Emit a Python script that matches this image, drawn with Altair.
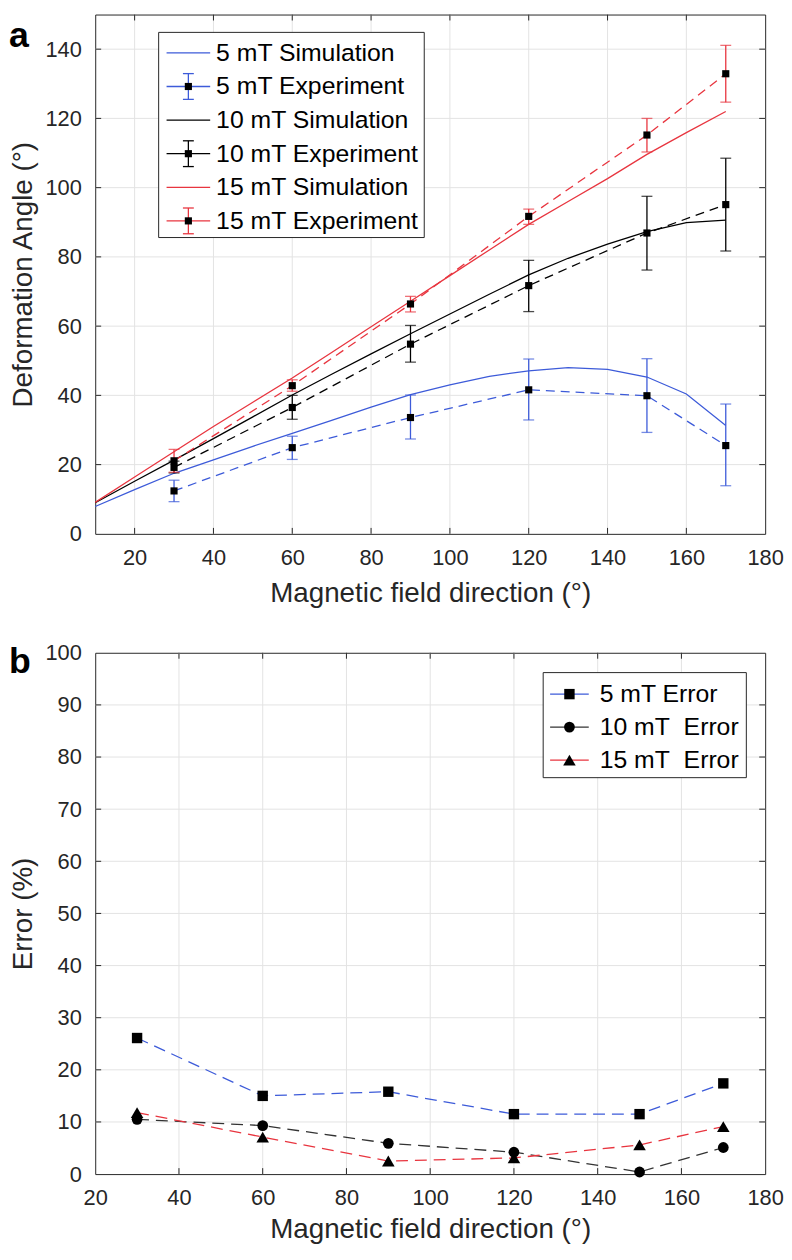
import altair as alt
import pandas as pd

# ---------------- data: panel a ----------------
sim_angles = [10, 20, 30, 40, 50, 60, 70, 80, 90, 100, 110, 120, 130, 140, 150, 160, 170]
sim_5mT = [7.9, 12.8, 17.5, 21.4, 25.3, 29.0, 32.8, 36.6, 40.2, 43.0, 45.5, 47.1, 48.0, 47.5, 45.3, 40.4, 31.3]
sim_10mT = [9.0, 15.2, 21.3, 27.5, 33.8, 40.1, 46.1, 52.0, 57.8, 63.5, 69.2, 74.8, 79.6, 83.7, 87.3, 89.9, 90.6]
sim_15mT = [9.1, 16.4, 23.7, 31.0, 38.0, 45.0, 52.4, 59.8, 67.2, 74.6, 82.0, 89.4, 96.0, 102.6, 109.6, 115.9, 122.0]

exp_angles = [30, 60, 90, 120, 150, 170]
exp_5mT = [12.4, 24.9, 33.6, 41.6, 39.9, 25.5]
exp_5mT_low = [9.3, 21.5, 27.4, 32.9, 29.3, 13.9]
exp_5mT_high = [15.5, 28.2, 40.1, 50.5, 50.6, 37.5]
exp_10mT = [19.2, 36.5, 54.8, 71.7, 86.9, 95.1]
exp_10mT_low = [17.6, 33.1, 49.6, 64.2, 76.2, 81.7]
exp_10mT_high = [21.0, 40.0, 60.2, 79.0, 97.5, 108.5]
exp_15mT = [21.1, 42.8, 66.4, 91.7, 115.2, 132.9]
exp_15mT_low = [17.8, 41.2, 64.1, 89.4, 110.3, 124.7]
exp_15mT_high = [24.4, 44.5, 68.6, 93.8, 120.0, 141.1]

series_a = ["5 mT Simulation", "5 mT Experiment", "10 mT Simulation",
            "10 mT Experiment", "15 mT Simulation", "15 mT Experiment"]
kind_a = ["sim", "exp", "sim", "exp", "sim", "exp"]

xticks_a = [20, 40, 60, 80, 100, 120, 140, 160, 180]
yticks_a = [0, 20, 40, 60, 80, 100, 120, 140]

# ---------------- data: panel b ----------------
err_angles = [30, 60, 90, 120, 150, 170]
err_5mT = [26.1, 15.0, 15.8, 11.5, 11.5, 17.4]
err_10mT = [10.5, 9.3, 5.9, 4.2, 0.4, 5.1]
err_15mT = [11.8, 7.1, 2.5, 3.1, 5.6, 9.1]

series_b = ["5 mT Error", "10 mT  Error", "15 mT  Error"]

xticks_b = [20, 40, 60, 80, 100, 120, 140, 160, 180]
yticks_b = [0, 10, 20, 30, 40, 50, 60, 70, 80, 90, 100]

# ---------------- styling ----------------
FONT = "Liberation Sans"
BLUE = "#3d5bd9"
RED = "#e8353f"
BLACK = "#000000"
FRAME = "#262626"
GRID = "#e3e3e3"
W = 676
HA = 524
HB = 526

colors_a = [BLUE, BLUE, BLACK, BLACK, RED, RED]
colors_b = [BLUE, "#333333", RED]
marker_shapes_b = ["square", "circle", "triangle-up"]
marker_sizes_b = [110, 118, 160]

# ---------------- tables ----------------
sim_rows = []
for name, vals in [("5 mT Simulation", sim_5mT), ("10 mT Simulation", sim_10mT),
                   ("15 mT Simulation", sim_15mT)]:
    for a, v in zip(sim_angles, vals):
        sim_rows.append({"x": a, "y": v, "series": name})
df_sim = pd.DataFrame(sim_rows)

exp_rows = []
for name, vals, lo, hi in [("5 mT Experiment", exp_5mT, exp_5mT_low, exp_5mT_high),
                           ("10 mT Experiment", exp_10mT, exp_10mT_low, exp_10mT_high),
                           ("15 mT Experiment", exp_15mT, exp_15mT_low, exp_15mT_high)]:
    for a, v, l, h in zip(exp_angles, vals, lo, hi):
        exp_rows.append({"x": a, "y": v, "lo": l, "hi": h, "series": name})
df_exp = pd.DataFrame(exp_rows)

err_rows = []
for name, vals in zip(series_b, [err_5mT, err_10mT, err_15mT]):
    for a, v in zip(err_angles, vals):
        err_rows.append({"x": a, "y": v, "eseries": name})
df_err = pd.DataFrame(err_rows)

df_leg_a = pd.DataFrame({"series": series_a, "kind": kind_a, "idx": range(len(series_a))})
df_leg_b = pd.DataFrame({"eseries": series_b, "idx": range(len(series_b))})
df_one = pd.DataFrame({"k": [0]})

# ---------------- helpers ----------------
def axis(values, title, lp, tp):
    return alt.Axis(values=values, title=title, grid=False, ticks=False, tickSize=0,
                    domain=False, labelFont=FONT, labelFontSize=22, labelColor=FRAME,
                    labelPadding=lp, labelFlush=False, labelOverlap=False,
                    titleFont=FONT, titleFontSize=28, titleFontWeight="normal",
                    titleColor=FRAME, titlePadding=tp)


def frame_layers(xenc, yenc, xvals, yvals, xdom, ydom, H):
    gx = pd.DataFrame({"x": [v for v in xvals if xdom[0] < v < xdom[1]]})
    gy = pd.DataFrame({"y": [v for v in yvals if ydom[0] < v < ydom[1]]})
    grid_x = alt.Chart(gx).mark_rule(color=GRID, strokeWidth=1).encode(x=xenc)
    grid_y = alt.Chart(gy).mark_rule(color=GRID, strokeWidth=1).encode(y=yenc)
    tb = alt.Chart(gx).mark_rule(color=FRAME, strokeWidth=1).encode(
        x=xenc, y=alt.value(H), y2=alt.value(H - 6))
    tt = alt.Chart(gx).mark_rule(color=FRAME, strokeWidth=1).encode(
        x=xenc, y=alt.value(0), y2=alt.value(6))
    tl = alt.Chart(gy).mark_rule(color=FRAME, strokeWidth=1).encode(
        y=yenc, x=alt.value(0), x2=alt.value(6))
    tr = alt.Chart(gy).mark_rule(color=FRAME, strokeWidth=1).encode(
        y=yenc, x=alt.value(W), x2=alt.value(W - 6))
    return [grid_x, grid_y], [tb, tt, tl, tr]


def panel_label(letter, ybase):
    return alt.Chart(pd.DataFrame({"t": [letter]})).mark_text(
        font=FONT, fontSize=36, fontWeight="bold", align="left",
        baseline="alphabetic", color="black").encode(
        text="t:N", x=alt.value(-87), y=alt.value(ybase))


def legend_box(x0, x1, y0, y1):
    return alt.Chart(df_one).mark_rect(fill="white", stroke=FRAME, strokeWidth=1).encode(
        x=alt.value(x0), x2=alt.value(x1), y=alt.value(y0), y2=alt.value(y1))

# ---------------- panel a ----------------
xdom_a = [10, 180]
ydom_a = [0, 150]
ax_xa = axis(xticks_a, "Magnetic field direction (°)", 14, 11)
ax_ya = axis(yticks_a, "Deformation Angle (°)", 14, 8)
sx_a = alt.Scale(domain=xdom_a, nice=False, zero=False)
sy_a = alt.Scale(domain=ydom_a, nice=False, zero=False)
xenc_a = alt.X("x:Q", scale=sx_a, axis=ax_xa)
yenc_a = alt.Y("y:Q", scale=sy_a, axis=ax_ya)
color_a = alt.Color("series:N", scale=alt.Scale(domain=series_a, range=colors_a), legend=None)

grids_a, ticks_a = frame_layers(xenc_a, yenc_a, xticks_a, yticks_a, xdom_a, ydom_a, HA)

sim_lines = alt.Chart(df_sim).mark_line(strokeWidth=1.3).encode(
    x=xenc_a, y=yenc_a, color=color_a, detail="series:N")
exp_lines = alt.Chart(df_exp).mark_line(strokeWidth=1.3, strokeDash=[9, 6]).encode(
    x=xenc_a, y=yenc_a, color=color_a, detail="series:N")
err_rules = alt.Chart(df_exp).mark_rule(strokeWidth=1.3).encode(
    x=xenc_a, y=alt.Y("lo:Q", scale=sy_a, axis=ax_ya), y2="hi:Q", color=color_a)
cap_lo = alt.Chart(df_exp).mark_tick(orient="horizontal", size=11, thickness=1.3).encode(
    x=xenc_a, y=alt.Y("lo:Q", scale=sy_a, axis=ax_ya), color=color_a)
cap_hi = alt.Chart(df_exp).mark_tick(orient="horizontal", size=11, thickness=1.3).encode(
    x=xenc_a, y=alt.Y("hi:Q", scale=sy_a, axis=ax_ya), color=color_a)
exp_marks = alt.Chart(df_exp).mark_square(size=52, filled=True, color=BLACK, opacity=1).encode(
    x=xenc_a, y=yenc_a)

# legend a (MATLAB-style box, rows laid out from the series order)
LA = dict(x0=64, x1=332, y0=18, y1=225, row0=38.7, step=33.9, s0=72, s1=116, sc=94, tx=122)
leg_a_base = alt.Chart(df_leg_a).transform_calculate(
    ly=f"{LA['row0']} + {LA['step']} * datum.idx",
    lt=f"{LA['row0']} + {LA['step']} * datum.idx - 13",
    lb=f"{LA['row0']} + {LA['step']} * datum.idx + 13")
ly_a = alt.Y("ly:Q", scale=None)
leg_exp = leg_a_base.transform_filter(alt.datum.kind == "exp")
leg_a_layers = [
    legend_box(LA["x0"], LA["x1"], LA["y0"], LA["y1"]),
    leg_a_base.mark_rule(strokeWidth=1.3).encode(
        x=alt.value(LA["s0"]), x2=alt.value(LA["s1"]), y=ly_a, color=color_a),
    leg_exp.mark_rule(strokeWidth=1.3).encode(
        x=alt.value(LA["sc"]), y=alt.Y("lt:Q", scale=None), y2="lb:Q", color=color_a),
    leg_exp.mark_rule(strokeWidth=1.3).encode(
        x=alt.value(LA["sc"] - 5.5), x2=alt.value(LA["sc"] + 5.5), y=alt.Y("lt:Q", scale=None),
        color=color_a),
    leg_exp.mark_rule(strokeWidth=1.3).encode(
        x=alt.value(LA["sc"] - 5.5), x2=alt.value(LA["sc"] + 5.5), y=alt.Y("lb:Q", scale=None),
        color=color_a),
    leg_exp.mark_square(size=52, filled=True, color=BLACK, opacity=1).encode(
        x=alt.value(LA["sc"]), y=ly_a),
    leg_a_base.mark_text(font=FONT, fontSize=25, align="left", baseline="middle",
                         color="black").encode(x=alt.value(LA["tx"]), y=ly_a, text="series:N"),
]

panel_a = alt.layer(*grids_a, sim_lines, exp_lines, err_rules, cap_lo, cap_hi, exp_marks,
                    *ticks_a, *leg_a_layers, panel_label("a", 33)).properties(width=W, height=HA)

# ---------------- panel b ----------------
xdom_b = [20, 180]
ydom_b = [0, 100]
ax_xb = axis(xticks_b, "Magnetic field direction (°)", 14, 7)
ax_yb = axis(yticks_b, "Error (%)", 14, 8)
sx_b = alt.Scale(domain=xdom_b, nice=False, zero=False)
sy_b = alt.Scale(domain=ydom_b, nice=False, zero=False)
xenc_b = alt.X("x:Q", scale=sx_b, axis=ax_xb)
yenc_b = alt.Y("y:Q", scale=sy_b, axis=ax_yb)
color_b = alt.Color("eseries:N", scale=alt.Scale(domain=series_b, range=colors_b), legend=None)

grids_b, ticks_b = frame_layers(xenc_b, yenc_b, xticks_b, yticks_b, xdom_b, ydom_b, HB)

err_lines = alt.Chart(df_err).mark_line(strokeWidth=1.3, strokeDash=[12, 7]).encode(
    x=xenc_b, y=yenc_b, color=color_b, detail="eseries:N")

LB = dict(x0=452, x1=657, y0=20, y1=126, row0=41.7, step=33.3, s0=459, s1=498, sc=478.5, tx=509)
leg_b_base = alt.Chart(df_leg_b).transform_calculate(
    ly=f"{LB['row0']} + {LB['step']} * datum.idx",
    label="replace(datum.eseries, '  ', '\u00a0 ')")
ly_b = alt.Y("ly:Q", scale=None)

marker_layers_b = []
for name, shp, sz in zip(series_b, marker_shapes_b, marker_sizes_b):
    marker_layers_b.append(
        alt.Chart(df_err).transform_filter(alt.datum.eseries == name).mark_point(
            shape=shp, filled=True, opacity=1, color=BLACK, size=sz).encode(x=xenc_b, y=yenc_b))
    marker_layers_b.append(
        leg_b_base.transform_filter(alt.datum.eseries == name).mark_point(
            shape=shp, filled=True, opacity=1, color=BLACK, size=sz).encode(
            x=alt.value(LB["sc"]), y=ly_b))

leg_b_layers = [
    legend_box(LB["x0"], LB["x1"], LB["y0"], LB["y1"]),
    leg_b_base.mark_rule(strokeWidth=1.3).encode(
        x=alt.value(LB["s0"]), x2=alt.value(LB["s1"]), y=ly_b, color=color_b),
    leg_b_base.mark_text(font=FONT, fontSize=25, align="left", baseline="middle",
                         color="black").encode(x=alt.value(LB["tx"]), y=ly_b, text="label:N"),
]

panel_b = alt.layer(*grids_b, err_lines, *ticks_b, *leg_b_layers, *marker_layers_b,
                    panel_label("b", 20)).properties(width=W, height=HB)

chart = alt.vconcat(panel_a, panel_b, spacing=33).resolve_scale(
    color="independent", x="independent", y="independent"
).properties(
    padding={"top": 0, "left": 0, "right": 0, "bottom": 0}
).configure_view(stroke=FRAME, strokeWidth=1)

chart.save("out.html", embed_options={"renderer": "svg", "actions": False})
